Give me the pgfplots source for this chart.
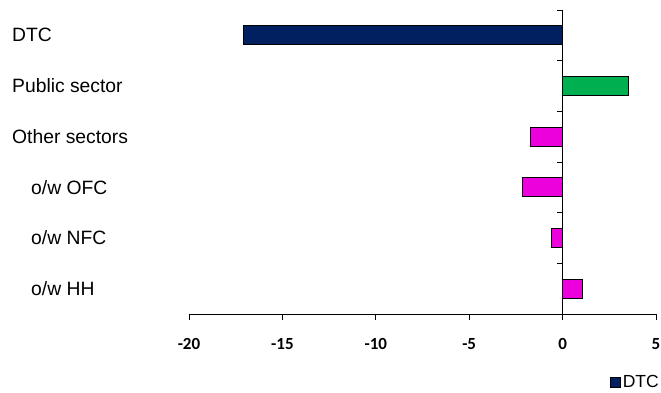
\documentclass[border=0pt]{standalone}
\usepackage{fontspec}
\setmainfont{Liberation Sans}
\newfontfamily\calib{Carlito}
\usepackage{pgfplots}
\pgfplotsset{compat=1.18}
\definecolor{navy}{RGB}{0,32,96}
\definecolor{grn}{RGB}{0,176,80}
\definecolor{mag}{RGB}{236,0,220}
\begin{document}
\begin{tikzpicture}[x=1pt,y=1pt]
\path[use as bounding box] (0,0) rectangle (661,392);
\begin{axis}[
  at={(189pt,78pt)}, anchor=south west,
  scale only axis, width=467pt, height=304pt,
  xmin=-20, xmax=5, ymin=-0.5, ymax=5.5, y dir=reverse,
  axis x line*=bottom, axis y line*=left,
  y axis line style={draw=none},
  x axis line style={line width=0.8pt},
  xtick={-20,-15,-10,-5,0,5},
  x tick style={line width=0.8pt, black},
  tick align=outside, major tick length=6pt,
  /pgf/number format/assume math mode=true,
  xticklabel style={font=\calib\bfseries\fontsize{17}{17}\selectfont, inner sep=0pt, yshift=-18pt},
  ytick={0,1,2,3,4,5},
  yticklabels={DTC, Public sector, Other sectors, \hspace*{19pt}o/w OFC, \hspace*{19pt}o/w NFC, \hspace*{19pt}o/w HH},
  y tick style={draw=none},
  yticklabel style={font=\fontsize{19.3}{19.3}\selectfont, anchor=west, inner sep=0pt, xshift=-171pt},
  legend style={at={(axis description cs:1.0107,-0.254)}, anchor=south east, draw=none, fill=none,
    inner sep=0pt, font=\fontsize{17.5}{17.5}\selectfont, legend cell align=left,
    /tikz/every even column/.append style={column sep=1pt}},
]
\addplot[xbar, bar width=19pt, bar shift=0pt, fill=navy, draw=black, line width=0.8pt,
  legend image code/.code={\draw[fill=navy,draw=black,line width=0.6pt] (0pt,-5pt) rectangle (10pt,5pt);}]
  coordinates {(-17.1,0)};
\addlegendentry{DTC}
\addplot[xbar, bar width=19pt, bar shift=0pt, fill=grn, draw=black, line width=0.8pt, forget plot]
  coordinates {(3.5,1)};
\addplot[xbar, bar width=19pt, bar shift=0pt, fill=mag, draw=black, line width=0.8pt, forget plot]
  coordinates {(-1.7,2) (-2.15,3) (-0.6,4) (1.05,5)};
\draw[line width=0.8pt] (axis cs:0,-0.5) -- (axis cs:0,5.5);
\pgfplotsinvokeforeach{-0.5,0.5,1.5,2.5,3.5,4.5,5.5}{
  \draw[line width=0.8pt] (axis cs:0,#1) -- ++(-6pt,0pt);
}
\end{axis}
\end{tikzpicture}
\end{document}
